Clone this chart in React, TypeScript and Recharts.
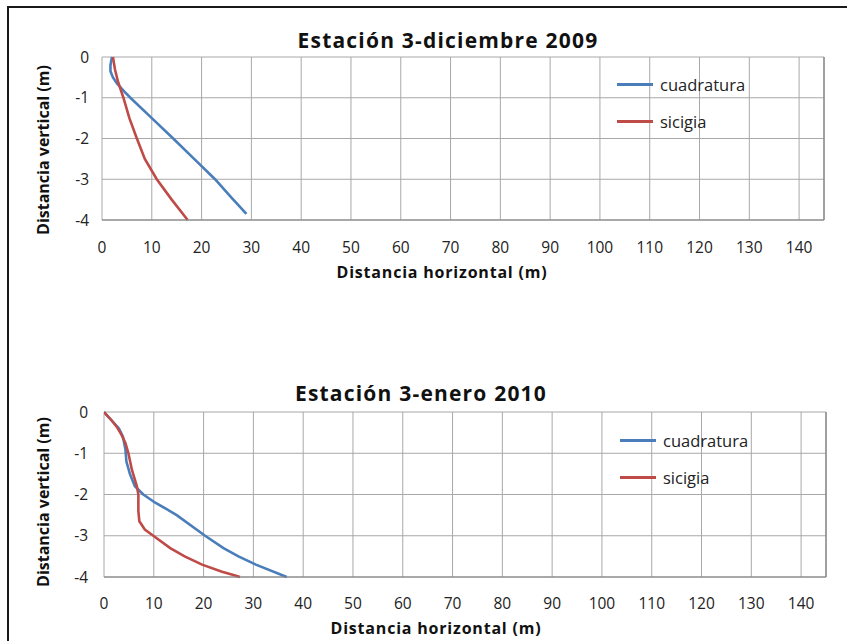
import { LineChart, Line, XAxis, YAxis, CartesianGrid, Legend, ReferenceLine, Label } from 'recharts';

// --- data (metres) ---
const X_TICKS = [0, 10, 20, 30, 40, 50, 60, 70, 80, 90, 100, 110, 120, 130, 140];
const Y_TICKS = [0, -1, -2, -3, -4];

// Estación 3 - diciembre 2009
const DIC_CUAD_X = [2.0, 1.7, 1.7, 2.2, 3.0, 4.5, 5.7, 10.0, 14.3, 18.5, 22.7, 26.0, 29.0];
const DIC_CUAD_Y = [0, -0.2, -0.35, -0.5, -0.65, -0.85, -1.0, -1.5, -2.0, -2.5, -3.0, -3.45, -3.85];
const DIC_SIC_X = [2.2, 2.6, 3.2, 4.3, 5.5, 7.0, 8.6, 11.0, 14.0, 17.2];
const DIC_SIC_Y = [0, -0.3, -0.6, -1.0, -1.5, -2.0, -2.5, -3.0, -3.5, -4.0];

// Estación 3 - enero 2010
const ENE_CUAD_X = [0, 1.5, 3.0, 3.8, 4.3, 4.5, 5.2, 6.2, 7.9, 10.3, 12.5, 14.6, 20.3, 24.0, 27.0, 30.5, 36.7];
const ENE_CUAD_Y = [0, -0.2, -0.4, -0.6, -0.9, -1.2, -1.5, -1.8, -2.0, -2.2, -2.35, -2.5, -3.0, -3.3, -3.5, -3.7, -4.0];
const ENE_SIC_X = [0, 1.5, 2.5, 3.5, 4.3, 4.9, 5.6, 6.6, 6.9, 6.9, 7.1, 8.2, 9.9, 13.3, 16.2, 19.7, 23.7, 26.0, 27.3];
const ENE_SIC_Y = [0, -0.2, -0.35, -0.55, -0.75, -1.0, -1.4, -1.8, -2.0, -2.4, -2.65, -2.85, -3.0, -3.3, -3.5, -3.7, -3.87, -3.95, -4.0];

const BLUE = '#4a7ebb';
const RED = '#be4b48';
const GRID = '#a8a8a8';
const FONT = '"Open Sans", sans-serif';

const pts = (xs: number[], ys: number[]) => xs.map((x, i) => ({ x, y: ys[i] }));

type PanelProps = {
  top: number;
  height: number;
  title: string;
  titleX: number;
  titleY: number;
  cuad: { x: number; y: number }[];
  sic: { x: number; y: number }[];
  marginTop: number;
  marginRight: number;
  yWidth: number;
  xHeight: number;
  yTickMargin: number;
  xTickMargin: number;
  xTitle: { x: number; y: number };
  yTitle: { x: number; y: number };
  legend: { left: number; top: number };
};

function LegendBox({ payload }: any) {
  return (
    <div style={{ fontFamily: FONT, fontSize: 16.5, color: '#222' }}>
      {(payload || []).map((p: any) => (
        <div key={p.value} style={{ display: 'flex', alignItems: 'center', height: 37 }}>
          <div style={{ width: 36, height: 3, background: p.color, marginRight: 7 }} />
          <span>{p.value}</span>
        </div>
      ))}
    </div>
  );
}

function Panel(p: PanelProps) {
  return (
    <div style={{ position: 'absolute', left: 0, top: p.top, width: 847, height: p.height }}>
      <div
        style={{
          position: 'absolute', left: p.titleX - 250, width: 500, top: p.titleY - 16, textAlign: 'center',
          fontFamily: FONT, fontWeight: 700, fontSize: 21, letterSpacing: 1.2, color: '#111', lineHeight: '32px',
        }}
      >
        {p.title}
      </div>
      <LineChart
        width={847}
        height={p.height}
        margin={{ top: p.marginTop, right: p.marginRight, left: 0, bottom: 0 }}
      >
        <CartesianGrid stroke={GRID} strokeWidth={1} />
        <XAxis
          type="number"
          dataKey="x"
          domain={[0, 145]}
          ticks={X_TICKS}
          interval={0}
          allowDataOverflow
          height={p.xHeight}
          tickSize={0}
          tickLine={false}
          tickMargin={p.xTickMargin}
          axisLine={{ stroke: '#7f7f7f' }}
          tick={{ fill: '#222', fontSize: 15.5, fontFamily: FONT }}
        >
          <Label
            content={() => (
              <text
                x={p.xTitle.x} y={p.xTitle.y} textAnchor="middle" dominantBaseline="central"
                fontFamily={FONT} fontWeight={700} fontSize={16} letterSpacing={0.8} fill="#111"
              >
                Distancia horizontal  (m)
              </text>
            )}
          />
        </XAxis>
        <YAxis
          type="number"
          domain={[-4, 0]}
          ticks={Y_TICKS}
          interval={0}
          width={p.yWidth}
          tickSize={0}
          tickLine={false}
          tickMargin={p.yTickMargin}
          axisLine={false}
          tick={{ fill: '#222', fontSize: 15.5, fontFamily: FONT }}
        >
          <Label
            content={() => (
              <text
                x={p.yTitle.x} y={p.yTitle.y} textAnchor="middle" dominantBaseline="central"
                transform={`rotate(-90, ${p.yTitle.x}, ${p.yTitle.y})`}
                fontFamily={FONT} fontWeight={700} fontSize={16} fill="#111"
              >
                Distancia vertical (m)
              </text>
            )}
          />
        </YAxis>
        <ReferenceLine x={145} stroke="#7f7f7f" strokeWidth={1.2} />
        <Legend
          layout="vertical"
          align="center"
          verticalAlign="middle"
          content={<LegendBox />}
          wrapperStyle={{ position: 'absolute', left: p.legend.left, top: p.legend.top, width: 160 }}
        />
        <Line data={p.cuad} dataKey="y" name="cuadratura" type="linear" stroke={BLUE} strokeWidth={2.6} dot={false} isAnimationActive={false} />
        <Line data={p.sic} dataKey="y" name="sicigia" type="linear" stroke={RED} strokeWidth={2.6} dot={false} isAnimationActive={false} />
      </LineChart>
    </div>
  );
}

export default function App() {
  return (
    <div style={{ position: 'absolute', left: 0, top: 0, width: 847, height: 641, overflow: 'hidden', background: '#fff' }}>
      <div style={{ position: 'absolute', left: 7, top: 6, width: 900, height: 700, borderLeft: '2px solid #1a1a1a', borderTop: '2px solid #1a1a1a' }} />
      <Panel
        top={0}
        height={300}
        title="Estación 3-diciembre 2009"
        titleX={448}
        titleY={40}
        cuad={pts(DIC_CUAD_X, DIC_CUAD_Y)}
        sic={pts(DIC_SIC_X, DIC_SIC_Y)}
        marginTop={57}
        marginRight={23}
        yWidth={102}
        xHeight={80}
        yTickMargin={13}
        xTickMargin={22}
        xTitle={{ x: 442, y: 272 }}
        yTitle={{ x: 43, y: 150 }}
        legend={{ left: 617, top: 66 }}
      />
      <Panel
        top={340}
        height={301}
        title="Estación 3-enero 2010"
        titleX={421}
        titleY={53}
        cuad={pts(ENE_CUAD_X, ENE_CUAD_Y)}
        sic={pts(ENE_SIC_X, ENE_SIC_Y)}
        marginTop={72}
        marginRight={21}
        yWidth={104}
        xHeight={64}
        yTickMargin={16}
        xTickMargin={21}
        xTitle={{ x: 436, y: 288 }}
        yTitle={{ x: 43, y: 162 }}
        legend={{ left: 620, top: 82 }}
      />
    </div>
  );
}
